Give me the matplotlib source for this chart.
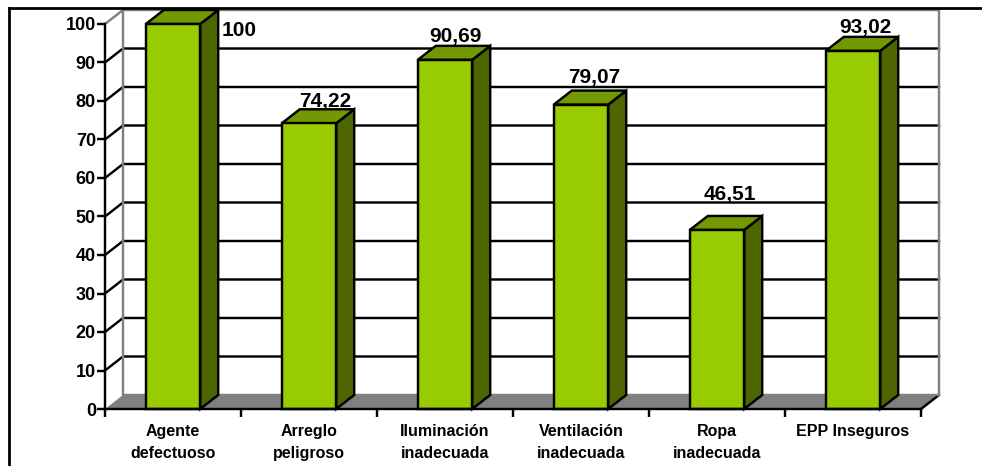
#!/usr/bin/env python3
from matplotlib import pyplot as plt
from matplotlib.lines import Line2D
from matplotlib.patches import Polygon

plt.rcParams['font.family'] = ['Liberation Sans', 'DejaVu Sans']
plt.rcParams['font.weight'] = 'bold'

categorias = ['Agente\ndefectuoso', 'Arreglo\npeligroso', 'Iluminación\ninadecuada',
              'Ventilación\ninadecuada', 'Ropa\ninadecuada', 'EPP Inseguros']
valores = [100, 74.22, 90.69, 79.07, 46.51, 93.02]
marcas_y = [0, 10, 20, 30, 40, 50, 60, 70, 80, 90, 100]

W, H = 982, 466
# area frontal del grafico en pixeles
X0, X1, Y0, Y1 = 105, 921, 409, 24
# profundidad del efecto 3D en unidades de datos
DX = 18 / ((X1 - X0) / len(valores))
DY = 14 / ((Y0 - Y1) / 100)
ANCHO = 0.40
NEGRO = '#000000'
GRIS = '#808080'
LW = 1.75

# desplazamiento de cada etiqueta en pixeles: centro de la barra y linea base sobre la barra
desp_etiquetas = [(66.5, -26), (16.5, 2), (10.5, 4), (13, 8), (13, 16), (12, 4)]


def cuadro(ax, puntos, color, zorder):
    ax.add_patch(Polygon(puntos, closed=True, facecolor=color, edgecolor=NEGRO,
                         linewidth=LW, joinstyle='miter', zorder=zorder, clip_on=False))


fig = plt.figure(figsize=(W / 100, H / 100), dpi=100)
ax = fig.add_axes([X0 / W, 1 - Y0 / H, (X1 - X0) / W, (Y0 - Y1) / H])
n = len(valores)
ax.set_xlim(0, n)
ax.set_ylim(0, 100)
ax.patch.set_visible(False)

# marco exterior: solo lados izquierdo y superior
fig.add_artist(Line2D([9 / W, 9 / W], [0, 1 - 8 / H], color=NEGRO, lw=2))
fig.add_artist(Line2D([9 / W, 1], [1 - 8 / H, 1 - 8 / H], color=NEGRO, lw=2))

# suelo gris
ax.add_patch(Polygon([(0, 0), (n, 0), (n + DX, DY), (DX, DY)], closed=True, facecolor=GRIS,
                     edgecolor='none', zorder=1, clip_on=False))
ax.plot([n, n + DX], [0, DY], color=NEGRO, lw=LW, zorder=2, clip_on=False)

# rejilla en la pared del fondo y en la pared izquierda
for v in marcas_y[1:-1]:
    ax.plot([0, DX, n + DX], [v, v + DY, v + DY], color=NEGRO, lw=LW, zorder=2,
            clip_on=False, solid_joinstyle='miter')

# bordes grises de las paredes
ax.plot([0, DX, n + DX, n + DX, DX, DX], [100, 100 + DY, 100 + DY, DY, DY, 100 + DY],
        color=GRIS, lw=LW, zorder=2, clip_on=False)

# barras con cara frontal, lateral y superior
for i, v in enumerate(valores):
    c = i + 0.5
    a, b = c - ANCHO / 2, c + ANCHO / 2
    cuadro(ax, [(b, 0), (b + DX, DY), (b + DX, v + DY), (b, v)], '#4D6600', 3)
    cuadro(ax, [(a, v), (b, v), (b + DX, v + DY), (a + DX, v + DY)], '#739900', 3)
    cuadro(ax, [(a, 0), (b, 0), (b, v), (a, v)], '#99CC00', 4)
    dx, dy = desp_etiquetas[i]
    ax.annotate(f'{v:g}'.replace('.', ','), (c, v + DY), xytext=(dx * 0.72, dy * 0.72),
                textcoords='offset points', ha='center', va='baseline', fontsize=15,
                fontweight='bold', color=NEGRO, zorder=6, annotation_clip=False)

for lado in ['top', 'right']:
    ax.spines[lado].set_visible(False)
for lado in ['left', 'bottom']:
    ax.spines[lado].set_linewidth(LW)
    ax.spines[lado].set_zorder(5)

ax.set_yticks(marcas_y)
ax.tick_params(axis='y', length=6, width=LW, labelsize=13, pad=0.5)
ax.set_xticks(range(n + 1))
ax.set_xticklabels([])
ax.tick_params(axis='x', which='major', length=5.5, width=LW)
ax.set_xticks([i + 0.5 for i in range(n)], minor=True)
ax.set_xticklabels(categorias, minor=True, fontsize=11.5, fontweight='bold', linespacing=1.58)
ax.tick_params(axis='x', which='minor', length=0, pad=10.5)

plt.savefig('out.png', dpi=100)
